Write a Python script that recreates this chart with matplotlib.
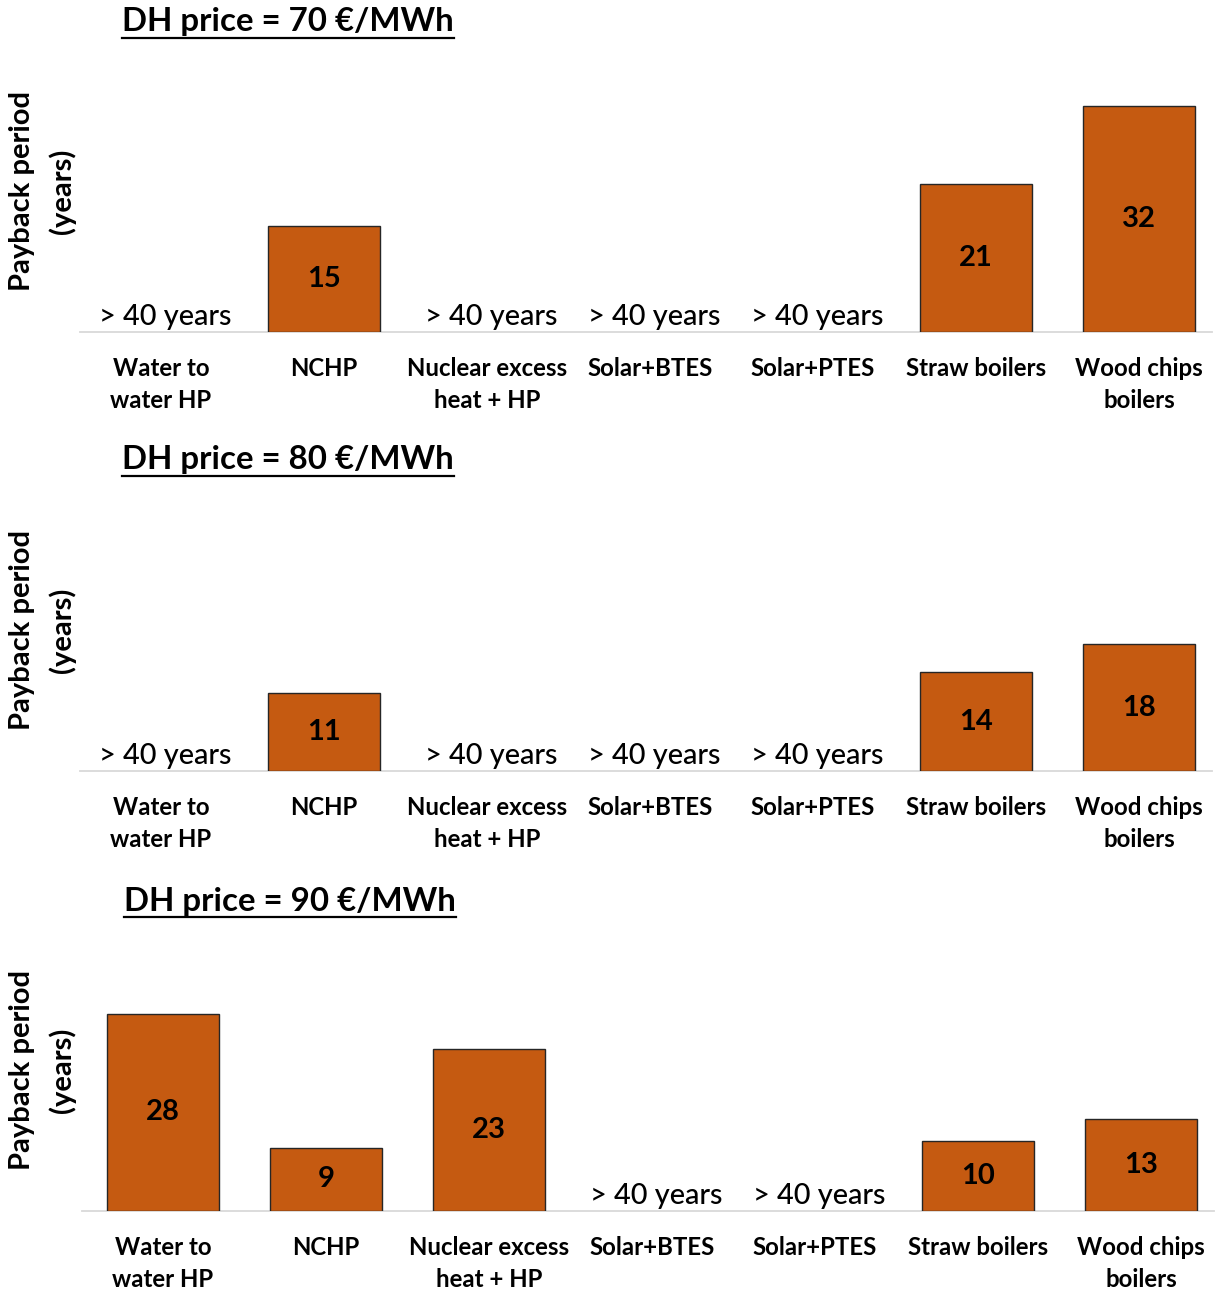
import matplotlib
matplotlib.use("Agg")
import matplotlib.pyplot as plt
from matplotlib.lines import Line2D

categories = ["Water to\nwater HP", "NCHP", "Nuclear excess\nheat + HP", "Solar+BTES",
              "Solar+PTES", "Straw boilers", "Wood chips\nboilers"]
titles = ["DH price = 70 €/MWh", "DH price = 80 €/MWh", "DH price = 90 €/MWh"]
payback_70 = [None, 15, None, None, None, 21, 32]
payback_80 = [None, 11, None, None, None, 14, 18]
payback_90 = [28, 9, 23, None, None, 10, 13]
panels = [payback_70, payback_80, payback_90]
missing_label = "> 40 years"

FONT = "Lato"
BAR = "#C55A11"
W, H = 1220, 1290
fig = plt.figure(figsize=(W / 100, H / 100), dpi=100)

baselines = [332, 771, 1211]
title_pos = [(122, 22), (122, 460), (124, 901)]
xshift = [0, 0, 2]
px_per_unit = 7.05
ymax = 40

for i, vals in enumerate(panels):
    base = baselines[i]
    left = 79.5 + xshift[i]
    width = 1141
    height = ymax * px_per_unit
    ax = fig.add_axes([left / W, 1 - base / H, width / W, height / H])
    ax.set_xlim(-0.5, 6.5)
    ax.set_ylim(0, ymax)
    for s in ["top", "right", "left"]:
        ax.spines[s].set_visible(False)
    ax.spines["bottom"].set_color("#D9D9D9")
    ax.spines["bottom"].set_linewidth(1.3)
    ax.spines["bottom"].set_bounds(-0.5, 6.45)
    ax.set_yticks([])
    ax.set_xticks(range(len(categories)))
    ax.set_xticklabels(categories, fontfamily=FONT, fontweight="bold", fontsize=17.3,
                       linespacing=1.48, va="top")
    ax.tick_params(axis="x", length=0, pad=18)
    for j, v in enumerate(vals):
        if v is None:
            ax.annotate(missing_label, (j, 0), xytext=(3, 11), textcoords="offset points",
                        ha="center", va="center", fontfamily=FONT, fontweight="medium",
                        fontsize=20.8, color="black")
        else:
            ax.bar(j, v, width=0.685, color=BAR, edgecolor="#262626", linewidth=1.0, zorder=3)
            ax.text(j, v / 2, str(v), ha="center", va="center", fontfamily=FONT,
                    fontweight="bold", fontsize=21, color="black", zorder=4)
    # y label
    cy = base - 141
    fig.text(22 / W, 1 - cy / H, "Payback period", rotation=90, ha="center", va="center",
             fontfamily=FONT, fontweight="bold", fontsize=21)
    fig.text(62 / W, 1 - cy / H, "(years)", rotation=90, ha="center", va="center",
             fontfamily=FONT, fontweight="bold", fontsize=21)
    tx, ty = title_pos[i]
    t = fig.text(tx / W, 1 - ty / H, titles[i], ha="left", va="center",
                 fontfamily=FONT, fontweight="bold", fontsize=23.8)
    t._is_title = True

fig.canvas.draw()
r = fig.canvas.get_renderer()
for t in fig.texts:
    if getattr(t, "_is_title", False):
        bb = t.get_window_extent(r)
        y = bb.y0 - 1
        fig.add_artist(Line2D([bb.x0 / W, bb.x1 / W], [y / H, y / H], color="black", linewidth=1.6))

fig.savefig("out.png", dpi=100, facecolor="white")
